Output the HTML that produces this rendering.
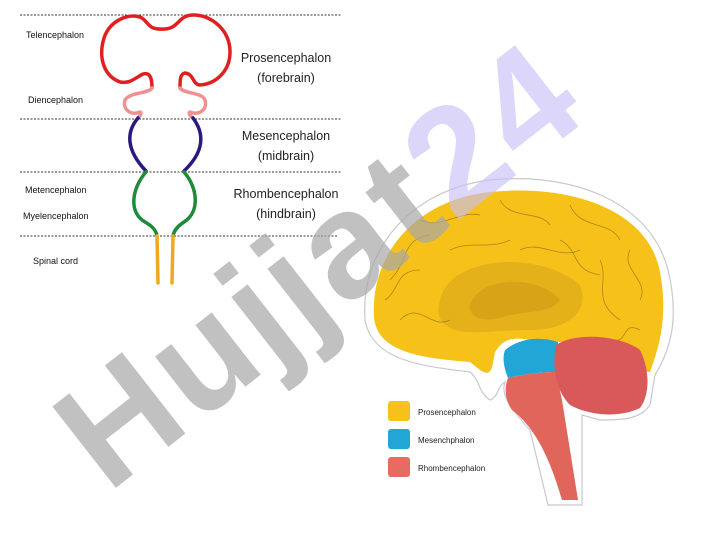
<!DOCTYPE html>
<html><head><meta charset="utf-8"><style>
body{margin:0;width:720px;height:540px;background:#fff;overflow:hidden;position:relative;font-family:"Liberation Sans",sans-serif}
.l{position:absolute;font-size:9px;color:#111}
.b{position:absolute;font-size:12.5px;color:#222;text-align:center;line-height:20px}
</style></head><body>
<div class="l" style="left:26px;top:30px">Telencephalon</div>
<div class="l" style="left:28px;top:95px">Diencephalon</div>
<div class="l" style="left:25px;top:185px">Metencephalon</div>
<div class="l" style="left:23px;top:211px">Myelencephalon</div>
<div class="l" style="left:33px;top:256px">Spinal cord</div>
<div class="b" style="left:232px;top:48px;width:108px">Prosencephalon<br>(forebrain)</div>
<div class="b" style="left:232px;top:126px;width:108px">Mesencephalon<br>(midbrain)</div>
<div class="b" style="left:228px;top:184px;width:116px">Rhombencephalon<br>(hindbrain)</div>
<svg width="720" height="540" style="position:absolute;left:0;top:0">
<g stroke="#333" stroke-width="1" stroke-dasharray="2,1.5">
<line x1="20" y1="15" x2="341" y2="15"/><line x1="20" y1="119" x2="341" y2="119"/>
<line x1="20" y1="172" x2="341" y2="172"/><line x1="20" y1="236" x2="338" y2="236"/>
</g>
<g fill="none" stroke-width="3.5" stroke-linecap="round" stroke-linejoin="round">
<path stroke="#e02020" d="M152,88 C152,78 150,72 143,74 C135,78 130,84 120,82 C104,76 98,58 104,38 C110,20 130,12 142,18 C150,24 148,30 165,29 C180,28 178,14 195,15 C212,16 230,30 230,52 C230,72 215,84 200,85 C192,84 194,74 185,73 C180,74 180,80 180,88"/>
<path stroke="#f09090" d="M152,88 C148,94 130,92 125,100 C122,110 132,116 140,112 C142,113 140,116 138,118 M180,88 C184,94 202,92 205,100 C208,110 198,116 190,112 C188,113 190,116 193,118"/>
<path stroke="#2a1a80" d="M138,118 C126,132 126,150 146,171 M193,118 C205,134 204,152 184,171"/>
<path stroke="#1e8a3a" d="M146,172 C132,188 128,212 145,222 C152,226 156,230 157,236 M184,172 C198,188 200,212 184,222 C178,226 174,230 173,236"/>
<path stroke="#f0a820" d="M157,236 L158,283 M173,236 L172,283"/>
</g>
<path d="M365,320 C360,250 410,190 490,180 C570,172 650,200 668,270 C680,320 670,350 655,375 L650,405 C640,420 620,420 600,420 L582,415 L582,505 L548,505 L530,430 C512,410 500,395 505,382 C498,385 498,398 490,400 C478,392 480,380 470,372 C420,366 372,360 365,320Z" fill="#fff" stroke="#c8c8d0" stroke-width="1.2"/>
<path d="M374,318 C370,255 415,200 490,192 C568,184 648,208 660,272 C668,315 660,345 650,372 C640,372 630,360 610,345 L560,342 L530,340 C505,335 500,345 495,352 C492,368 492,378 480,370 L470,362 C420,358 378,352 374,318Z" fill="#f6c21a"/>
<path d="M440,300 C450,255 540,250 580,285 C590,310 570,330 530,330 C500,330 470,335 455,330 C440,325 436,315 440,300Z" fill="#d9a51a" opacity="0.6"/>
<path d="M470,305 C480,275 540,275 560,300 C550,315 520,310 500,318 C485,322 468,318 470,305Z" fill="#c99614" opacity="0.5"/>
<g fill="none" stroke="#9a7410" stroke-width="0.8" opacity="0.8">
<path d="M390,280 C410,260 400,240 430,235 M420,220 C440,230 460,210 480,215 M500,200 C510,220 540,210 550,225 M570,205 C580,230 610,220 620,240 M630,250 C620,270 650,280 640,300 M600,260 C610,280 590,300 620,320 M560,240 C580,250 570,270 600,275 M400,320 C420,300 430,330 450,320 M385,300 C400,290 395,270 420,270 M450,250 C470,240 490,250 510,240 M520,250 C540,240 560,260 580,250 M640,330 C620,320 630,345 610,340"/>
</g>
<path d="M505,350 C520,338 540,336 558,342 L556,372 C540,372 520,375 508,378 C504,368 502,358 505,350Z" fill="#22a6d6"/>
<path d="M508,378 C520,375 540,372 556,372 L562,400 L578,500 L562,500 C545,440 525,420 512,410 C505,400 504,388 508,378Z" fill="#e0665c"/>
<path d="M556,345 C575,332 620,335 640,350 C650,370 650,395 640,408 C620,418 590,416 570,405 C555,390 552,365 556,345Z" fill="#d9595a"/>
<rect x="388" y="401" width="22" height="20" rx="3" fill="#f8c01a"/>
<rect x="388" y="429" width="22" height="20" rx="3" fill="#22a6d6"/>
<rect x="388" y="457" width="22" height="20" rx="3" fill="#e76b63"/>
<text x="418" y="415" font-size="8" font-family="Liberation Sans" fill="#222">Prosencephalon</text>
<text x="418" y="443" font-size="8" font-family="Liberation Sans" fill="#222">Mesenchphalon</text>
<text x="418" y="471" font-size="8" font-family="Liberation Sans" fill="#222">Rhombencephalon</text>
<g transform="translate(108,494) rotate(-38)" font-family="Liberation Sans" font-weight="bold" font-size="150">
<text x="0" y="0" fill="#a8a8a8" opacity="0.7" letter-spacing="4">Hujjat<tspan fill="#c8c0f8" opacity="0.9">24</tspan></text>
</g>
</svg>
</body></html>
